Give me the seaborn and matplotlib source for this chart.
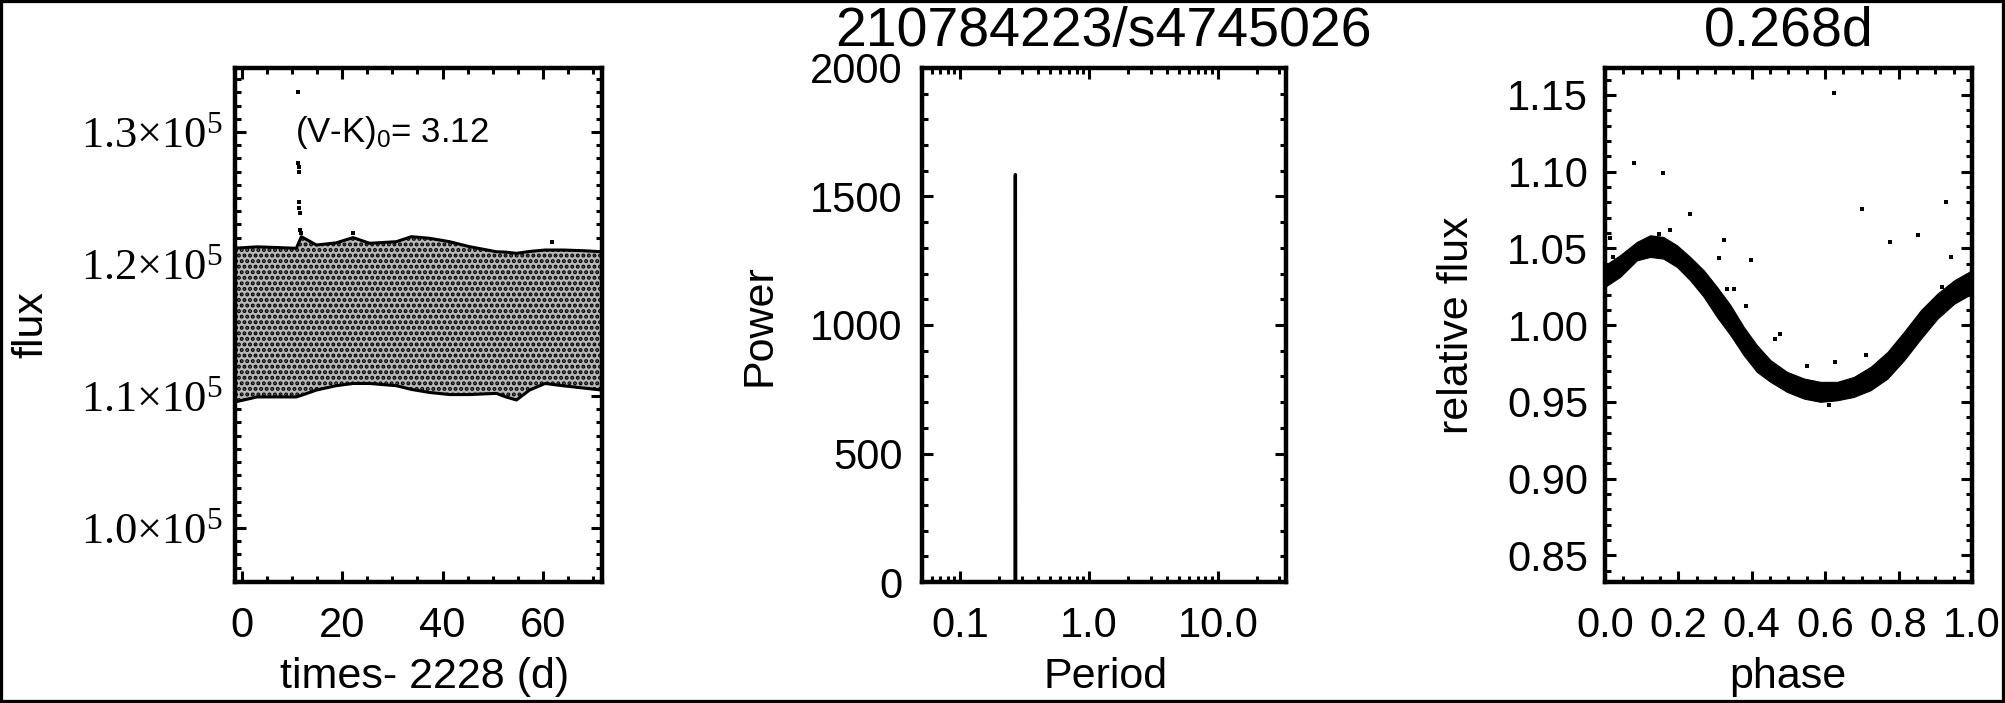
import numpy as np
import pandas as pd
import seaborn as sns
import matplotlib
matplotlib.use("Agg")
import matplotlib.pyplot as plt
from matplotlib.patches import Rectangle
from matplotlib.ticker import (FixedLocator, FixedFormatter, MultipleLocator,
                               LogLocator, NullFormatter)

# ---- left panel: light curve envelope (times - 2228 d, flux) ----
t_env = [-1.3, 3.1, 7.0, 10.9, 11.9, 14.9, 18.8, 22.2, 25.5, 30.8, 33.8,
         37.4, 41.4, 45.4, 50.7, 52.6, 54.7, 57.3, 60.4, 63.9, 67.9, 71.7]
flux_hi = [121200, 121300, 121250, 121190, 122070, 121440, 121600, 122000,
           121570, 121690, 122070, 121950, 121690, 121310, 120930, 120900,
           120810, 120950, 121060, 121060, 121010, 120930]
flux_lo = [109550, 109930, 109930, 109930, 110050, 110450, 110780, 110950,
           110950, 110780, 110500, 110270, 110110, 110110, 110200, 109930,
           109700, 110450, 110950, 110780, 110610, 110450]
# isolated points above the band (flare at ~11 d)
t_out = [11.3, 11.3, 11.4, 11.4, 11.5, 11.5, 11.6, 11.7, 11.8, 22.2, 61.7]
flux_out = [133000, 127630, 127370, 126950, 124720, 124220, 123890, 122580,
            122320, 122330, 121690]
vk_text = "(V-K)$_0$= 3.12"
lc_yticks = [100000, 110000, 120000, 130000]
lc_ylabels = ["1.0\u00d710$^5$", "1.1\u00d710$^5$", "1.2\u00d710$^5$", "1.3\u00d710$^5$"]

# ---- middle panel: periodogram ----
period = [0.0506, 0.08, 0.15, 0.25, 0.2665, 0.268, 0.2695, 0.29, 0.6, 1.0, 5.0, 33.8]
power = [0, 0, 0, 0, 0, 1585, 0, 0, 0, 0, 0, 0]
per_xticks = [0.1, 1.0, 10.0]
per_xlabels = ["0.1", "1.0", "10.0"]

# ---- right panel: phased light curve (P = 0.268 d) ----
phase_knots = [0.0, 0.041, 0.087, 0.123, 0.159, 0.196, 0.232, 0.269, 0.305,
               0.342, 0.378, 0.414, 0.451, 0.496, 0.542, 0.587, 0.633, 0.678,
               0.724, 0.770, 0.815, 0.861, 0.906, 0.952, 1.0]
band_hi = [1.0391, 1.0456, 1.0543, 1.0586, 1.0575, 1.0521, 1.0445, 1.0358,
           1.0250, 1.0130, 0.9989, 0.9870, 0.9772, 0.9696, 0.9653, 0.9631,
           0.9631, 0.9663, 0.9729, 0.9826, 0.9957, 1.0098, 1.0206, 1.0293, 1.0358]
band_lo = [1.0250, 1.0315, 1.0423, 1.0445, 1.0434, 1.0380, 1.0293, 1.0185,
           1.0054, 0.9935, 0.9805, 0.9696, 0.9631, 0.9566, 0.9522, 0.9501,
           0.9511, 0.9533, 0.9577, 0.9653, 0.9772, 0.9913, 1.0043, 1.0141, 1.0206]
ph_out = [0.624, 0.080, 0.157, 0.232, 0.701, 0.929, 0.777, 0.853, 0.943, 0.323,
          0.310, 0.399, 0.178, 0.146, 0.014, 0.021, 0.332, 0.351, 0.385, 0.476,
          0.464, 0.627, 0.710, 0.551, 0.610, 0.918]
rf_out = [1.1516, 1.1058, 1.0992, 1.0727, 1.0754, 1.0803, 1.0543, 1.0586,
          1.0445, 1.0554, 1.0439, 1.0423, 1.0619, 1.0597, 1.0569, 1.0445,
          1.0239, 1.0239, 1.0124, 0.9941, 0.9913, 0.9761, 0.9805, 0.9733,
          0.9479, 1.0250]
ph_xticks = [0.0, 0.2, 0.4, 0.6, 0.8, 1.0]
ph_xlabels = ["0.0", "0.2", "0.4", "0.6", "0.8", "1.0"]
ph_yticks = [0.85, 0.90, 0.95, 1.00, 1.05, 1.10, 1.15]
ph_ylabels = ["0.85", "0.90", "0.95", "1.00", "1.05", "1.10", "1.15"]

sns.set_theme(style="ticks")
plt.rcParams["font.family"] = ["Liberation Sans", "DejaVu Sans"]
plt.rcParams["mathtext.default"] = "regular"
plt.rcParams["hatch.linewidth"] = 2.0
plt.rcParams["text.color"] = "black"
plt.rcParams["axes.labelcolor"] = "black"
plt.rcParams["axes.titlecolor"] = "black"

TICK = 30
LAB = 31

fig = plt.figure(figsize=(20.05, 7.03), dpi=100)
ax1 = fig.add_axes([0.1172, 0.1721, 0.1830, 0.7312])
ax2 = fig.add_axes([0.4599, 0.1721, 0.1815, 0.7312])
ax3 = fig.add_axes([0.8005, 0.1721, 0.1830, 0.7312])


def idl_axes(ax, ypad):
    for s in ax.spines.values():
        s.set_visible(True)
        s.set_linewidth(3.2)
        s.set_color("black")
    ax.tick_params(which="both", direction="in", top=True, right=True,
                   colors="black", labelsize=TICK)
    ax.tick_params(which="major", length=8, width=2.2)
    ax.tick_params(which="minor", length=4, width=2.2)
    ax.tick_params(axis="x", which="major", pad=17)
    ax.tick_params(axis="y", which="major", pad=ypad)
    ax.grid(False)
    ax.set_facecolor("white")


# left: light curve
lc = pd.DataFrame({"t": t_env, "hi": flux_hi, "lo": flux_lo})
ax1.fill_between(lc["t"], lc["lo"], lc["hi"], facecolor="0.72",
                 edgecolor="black", hatch="...", linewidth=0)
sns.lineplot(data=lc, x="t", y="hi", ax=ax1, color="black", lw=2.2, sort=False)
sns.lineplot(data=lc, x="t", y="lo", ax=ax1, color="black", lw=2.2, sort=False)
sns.scatterplot(x=t_out, y=flux_out, ax=ax1, color="black", s=8,
                marker="s", linewidth=0)
ax1.set_xlim(-1.3, 71.7)
ax1.set_ylim(95910, 134850)
idl_axes(ax1, 9)
ax1.xaxis.set_major_locator(MultipleLocator(20))
ax1.xaxis.set_minor_locator(MultipleLocator(5))
ax1.yaxis.set_major_locator(FixedLocator(lc_yticks))
ax1.yaxis.set_major_formatter(FixedFormatter(lc_ylabels))
ax1.yaxis.set_minor_locator(MultipleLocator(1000))
ax1.tick_params(axis="y", labelfontfamily="Liberation Serif", labelsize=32)
ax1.set_xlabel("times- 2228 (d)", fontsize=LAB)
ax1.set_ylabel("flux", fontsize=LAB)
ax1.xaxis.set_label_coords(0.518, -0.145)
ax1.yaxis.set_label_coords(-0.50, 0.5)
ax1.text(0.163, 0.856, vk_text, transform=ax1.transAxes, fontsize=25,
         va="baseline", ha="left")

# middle: periodogram
pg = pd.DataFrame({"period": period, "power": power})
sns.lineplot(data=pg, x="period", y="power", ax=ax2, color="black", lw=2.4)
ax2.set_xscale("log")
ax2.set_xlim(0.0506, 33.8)
ax2.set_ylim(0, 2000)
idl_axes(ax2, 14)
ax2.xaxis.set_major_locator(FixedLocator(per_xticks))
ax2.xaxis.set_major_formatter(FixedFormatter(per_xlabels))
ax2.xaxis.set_minor_locator(LogLocator(base=10, subs=np.arange(2, 10)))
ax2.xaxis.set_minor_formatter(NullFormatter())
ax2.yaxis.set_major_locator(MultipleLocator(500))
ax2.yaxis.set_minor_locator(MultipleLocator(100))
ax2.set_xlabel("Period", fontsize=LAB)
ax2.set_ylabel("Power", fontsize=LAB)
ax2.xaxis.set_label_coords(0.503, -0.145)
ax2.yaxis.set_label_coords(-0.392, 0.5)
ax2.set_title("210784223/s4745026", fontsize=40, pad=16)

# right: phased curve
ph = pd.DataFrame({"phase": phase_knots, "hi": band_hi, "lo": band_lo})
ax3.fill_between(ph["phase"], ph["lo"], ph["hi"], color="black", linewidth=0.8)
sns.scatterplot(x=ph_out, y=rf_out, ax=ax3, color="black", s=10,
                marker="s", linewidth=0)
ax3.set_xlim(0, 1)
ax3.set_ylim(0.8327, 1.1676)
idl_axes(ax3, 12)
ax3.xaxis.set_major_locator(FixedLocator(ph_xticks))
ax3.xaxis.set_major_formatter(FixedFormatter(ph_xlabels))
ax3.xaxis.set_minor_locator(MultipleLocator(0.05))
ax3.yaxis.set_major_locator(FixedLocator(ph_yticks))
ax3.yaxis.set_major_formatter(FixedFormatter(ph_ylabels))
ax3.yaxis.set_minor_locator(MultipleLocator(0.01))
ax3.set_xlabel("phase", fontsize=LAB)
ax3.set_ylabel("relative flux", fontsize=LAB)
ax3.xaxis.set_label_coords(0.499, -0.145)
ax3.yaxis.set_label_coords(-0.35, 0.5)
ax3.set_title("0.268d", fontsize=40, pad=16)

# frame around the whole figure
fig.add_artist(Rectangle((0, 0), 1, 1, transform=fig.transFigure, fill=False,
                         edgecolor="black", linewidth=4.5))

fig.savefig("out.png", dpi=100, facecolor="white")
